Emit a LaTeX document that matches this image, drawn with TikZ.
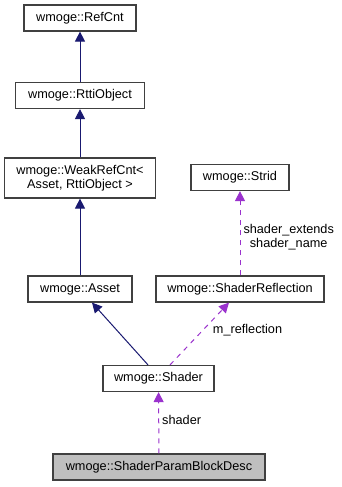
\documentclass[tikz,border=0pt]{standalone}
\usepackage{fontspec}
\setmainfont{Liberation Sans}
\usetikzlibrary{arrows.meta}
\definecolor{inherit}{HTML}{191970}
\definecolor{usage}{HTML}{9A32CD}
\definecolor{boxline}{HTML}{404040}
\tikzset{
  cls/.style={draw=boxline, line width=1.2pt, fill=white, inner sep=0pt,
    minimum height=26pt, font=\fontsize{12.7}{14.5}\selectfont, align=center},
  focus/.style={cls, fill=black!25},
  isa/.style={draw=inherit, line width=1pt, -{Triangle[length=10pt,width=10pt]}},
  uses/.style={draw=usage, line width=1pt, dash pattern=on 5pt off 5pt,
    -{Triangle[length=10pt,width=10pt]}},
  lbl/.style={font=\fontsize{12.7}{14}\selectfont, inner sep=0pt, align=center}
}
\begin{document}
\begin{tikzpicture}[x=1pt, y=-1pt]
  \useasboundingbox (0,0) rectangle (341,487);

  % class boxes
  \node[cls, minimum width=112pt] (refcnt) at (80,18) {wmoge::RefCnt};
  \node[cls, minimum width=129pt] (rtti) at (80,95.5) {wmoge::RttiObject};
  \node[cls, minimum width=151pt, minimum height=40pt] (weak) at (80,178)
    {wmoge::WeakRefCnt<\\Asset, RttiObject >};
  \node[cls, minimum width=104pt] (asset) at (80,289) {wmoge::Asset};
  \node[cls, minimum width=98pt] (strid) at (240,177.5) {wmoge::Strid};
  \node[cls, minimum width=168pt] (refl) at (240,289) {wmoge::ShaderReflection};
  \node[cls, minimum width=111pt] (shader) at (158.5,378.5) {wmoge::Shader};
  \node[focus, minimum width=212pt] (desc) at (159,467) {wmoge::ShaderParamBlockDesc};

  % inheritance
  \draw[isa] (rtti) -- (refcnt);
  \draw[isa] (weak) -- (rtti);
  \draw[isa] (asset) -- (weak);
  \draw[isa] ([xshift=-10.5pt]shader.north) -- ([xshift=12pt]asset.south);

  % usage
  \draw[uses] (refl) -- node[lbl, right=3pt, pos=0.45] {shader\_extends\\shader\_name} (strid);
  \draw[uses] ([xshift=11.5pt]shader.north) -- node[lbl, right=10pt, pos=0.55] {m\_reflection} ([xshift=-11pt]refl.south);
  \draw[uses] (desc) -- node[lbl, right=3pt, pos=0.55] {shader} (shader);
\end{tikzpicture}
\end{document}
